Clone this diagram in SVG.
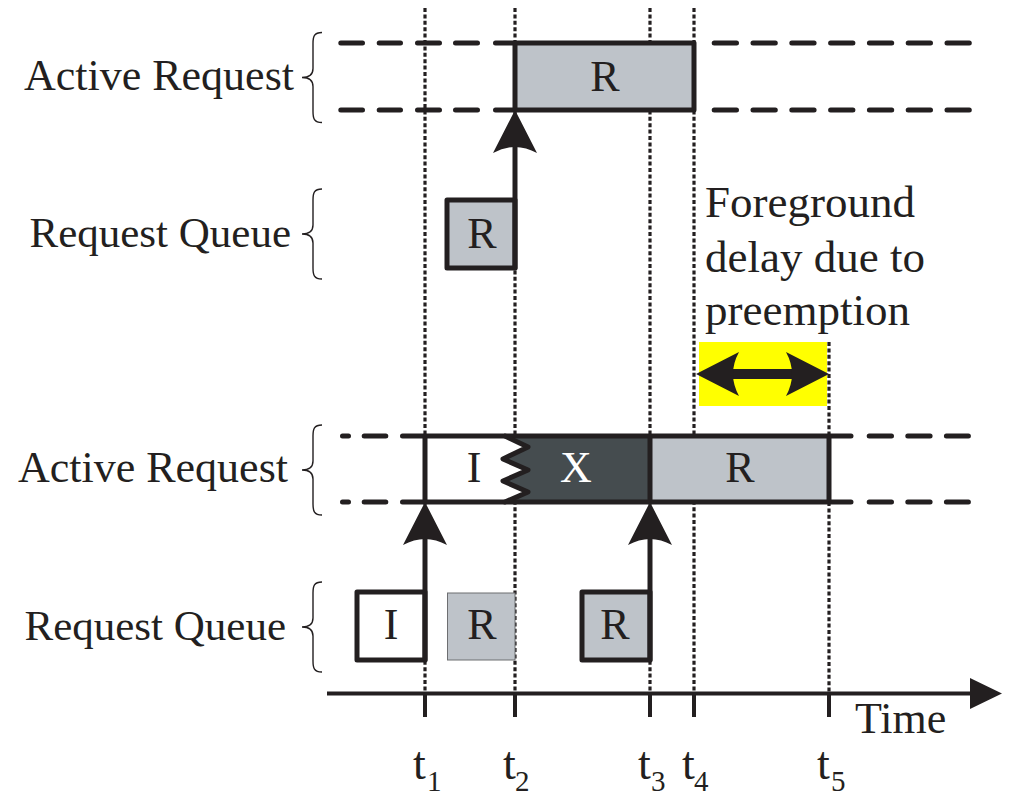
<svg xmlns="http://www.w3.org/2000/svg" xmlns:xlink="http://www.w3.org/1999/xlink" width="1010" height="796" viewBox="0 0 1010 796">
  <style>
    .txt { font-family: "Liberation Serif", "Times New Roman", serif; fill: #231F20; }
    .lbl { font-size: 44px; text-anchor: end; }
    .box { font-size: 44px; text-anchor: middle; }
    .tk { font-size: 46px; }
    .sub { font-size: 29px; }
    .dot { stroke: #231F20; stroke-width: 3.2; stroke-dasharray: 4 2.4; fill: none; }
    .dash { stroke: #231F20; stroke-width: 5; stroke-linecap: round; fill: none; }
    .edge { stroke: #231F20; stroke-width: 5; stroke-linejoin: round; stroke-linecap: round; fill: none; }
    .brace { stroke: #231F20; stroke-width: 1.4; fill: none; }
    .gray { fill: #BEC3C9; }
    .dark { fill: #454C4F; }
    .head { fill: #231F20; }
  </style>
  <defs>
    <!-- upward arrowhead with a concave back, tip at the origin -->
    <path id="headUp" d="M0 0 L-22 43 Q0 31 22 43 Z"/>
    <!-- left curly brace, tip at the origin, 90 high -->
    <path id="brace" d="M20 -45 C12 -45 11 -41 11 -34 L11 -9 C11 -3 7 0 0 0 C7 0 11 3 11 9 L11 34 C11 41 12 45 20 45"/>
  </defs>

  <rect width="1010" height="796" fill="#FFFFFF"/>

  <!-- time markers -->
  <g id="time-markers">
    <line class="dot" x1="425" y1="8" x2="425" y2="693"/>
    <line class="dot" x1="515" y1="8" x2="515" y2="693"/>
    <line class="dot" x1="650" y1="8" x2="650" y2="693"/>
    <line class="dot" x1="694" y1="8" x2="694" y2="693"/>
    <line class="dot" x1="829" y1="342" x2="829" y2="693"/>
  </g>

  <!-- row labels and braces -->
  <g id="label-active-top">
    <text class="txt lbl" x="294" y="90">Active Request</text>
    <use href="#brace" class="brace" transform="translate(302,77.5)"/>
  </g>
  <g id="label-queue-top">
    <text class="txt lbl" x="291" y="247" style="font-size:43px">Request Queue</text>
    <use href="#brace" class="brace" transform="translate(302,234)"/>
  </g>
  <g id="label-active-bottom">
    <text class="txt lbl" x="288" y="482">Active Request</text>
    <use href="#brace" class="brace" transform="translate(302,470)"/>
  </g>
  <g id="label-queue-bottom">
    <text class="txt lbl" x="286" y="640" style="font-size:43px">Request Queue</text>
    <use href="#brace" class="brace" transform="translate(302,627)"/>
  </g>

  <!-- upper timeline: active slot -->
  <g id="active-top">
    <path class="dash" d="M340.8 43H362.5M379.2 43H400.5M417.5 43H439.5M455.5 43H477.5M495.5 43H515
                          M340.8 110H362.5M379.2 110H400.5M417.5 110H439.5M455.5 110H477.5M495.5 110H515"/>
    <path class="dash" d="M714.2 43H736.5M753 43H775.3M791.8 43H814.1M830.6 43H852.9M869.4 43H891.7M908.2 43H930.5M947 43H969.3
                          M714.2 110H736.5M753 110H775.3M791.8 110H814.1M830.6 110H852.9M869.4 110H891.7M908.2 110H930.5M947 110H969.3"/>
    <rect class="gray" x="515" y="43" width="179" height="67"/>
    <rect class="edge" x="515" y="43" width="179" height="67"/>
    <text class="txt box" x="605" y="91">R</text>
  </g>

  <!-- upper timeline: queued request -->
  <g id="queue-top">
    <rect class="gray" x="447" y="200" width="68" height="68"/>
    <rect class="edge" x="447" y="200" width="68" height="68"/>
    <text class="txt box" x="482" y="248">R</text>
  </g>

  <!-- lower timeline: active slot (I preempted by X, then R) -->
  <g id="active-bottom">
    <path class="dash" d="M342.5 436H348.5M364.2 436H385.8M402.5 436H425M342.5 502H348.5M364.2 502H385.8M402.5 502H425"/>
    <path class="dash" d="M829 436H851M869.2 436H891.5M907.8 436H930.1M946.4 436H968.4
                          M829 502H851M869.2 502H891.5M907.8 502H930.1M946.4 502H968.4"/>
    <polygon fill="#FFFFFF" points="425,436 505,436 528,447 503,459 528,470 503,481 528,492 505,502 425,502"/>
    <polygon class="dark" points="505,436 650,436 650,502 505,502 528,492 503,481 528,470 503,459 528,447"/>
    <rect class="gray" x="650" y="436" width="179" height="66"/>
    <path class="edge" d="M425 436H829V502H425Z M650 436V502"/>
    <polyline class="edge" points="505,436 528,447 503,459 528,470 503,481 528,492 505,502"/>
    <text class="txt box" x="474" y="482">I</text>
    <text class="txt box" x="576" y="482" style="fill:#FFFFFF">X</text>
    <text class="txt box" x="740" y="482">R</text>
  </g>

  <!-- lower timeline: queued requests -->
  <g id="queue-bottom-i">
    <rect fill="#FFFFFF" x="357" y="592" width="68" height="68"/>
    <rect class="edge" x="357" y="592" width="68" height="68"/>
    <text class="txt box" x="391" y="639">I</text>
  </g>
  <g id="queue-bottom-r1">
    <rect class="gray" x="447.5" y="593" width="67.5" height="67" stroke="#6D6E71" stroke-width="1"/>
    <text class="txt box" x="482" y="639">R</text>
  </g>
  <g id="queue-bottom-r2">
    <rect class="gray" x="582" y="592" width="68" height="68"/>
    <rect class="edge" x="582" y="592" width="68" height="68"/>
    <text class="txt box" x="615" y="639">R</text>
  </g>

  <!-- dispatch arrows -->
  <g id="connectors">
    <line class="edge" x1="515" y1="268" x2="515" y2="147"/>
    <use href="#headUp" class="head" transform="translate(515,110)"/>
    <line class="edge" x1="425" y1="660" x2="425" y2="539"/>
    <use href="#headUp" class="head" transform="translate(425,502)"/>
    <line class="edge" x1="650" y1="660" x2="650" y2="539"/>
    <use href="#headUp" class="head" transform="translate(650,502)"/>
  </g>

  <!-- foreground delay annotation -->
  <g id="delay-note">
    <rect x="699" y="342" width="128" height="64" fill="#FFFF00"/>
    <line x1="730" y1="374" x2="795" y2="374" stroke="#231F20" stroke-width="10"/>
    <use href="#headUp" class="head" transform="translate(696,374) rotate(-90)"/>
    <use href="#headUp" class="head" transform="translate(829,374) rotate(90)"/>
    <text class="txt" x="705" y="217" style="font-size:45px">Foreground</text>
    <text class="txt" x="705" y="272" style="font-size:45px">delay due to</text>
    <text class="txt" x="705" y="325" style="font-size:45px">preemption</text>
  </g>

  <!-- time axis -->
  <g id="time-axis">
    <line x1="327" y1="693.5" x2="972" y2="693.5" stroke="#231F20" stroke-width="4"/>
    <polygon class="head" points="970,678 1002,693.5 970,709"/>
    <path d="M425 693V717M515 693V717M650 693V717M694 693V717M829 693V717" stroke="#231F20" stroke-width="4"/>
    <text class="txt" x="855" y="733" style="font-size:44px">Time</text>
    <text class="txt tk" x="413" y="779">t<tspan class="sub" x="427" y="791">1</tspan></text>
    <text class="txt tk" x="503" y="779">t<tspan class="sub" x="515" y="791">2</tspan></text>
    <text class="txt tk" x="638" y="779">t<tspan class="sub" x="651" y="791">3</tspan></text>
    <text class="txt tk" x="682" y="779">t<tspan class="sub" x="694" y="791">4</tspan></text>
    <text class="txt tk" x="817" y="779">t<tspan class="sub" x="831" y="791">5</tspan></text>
  </g>
</svg>
